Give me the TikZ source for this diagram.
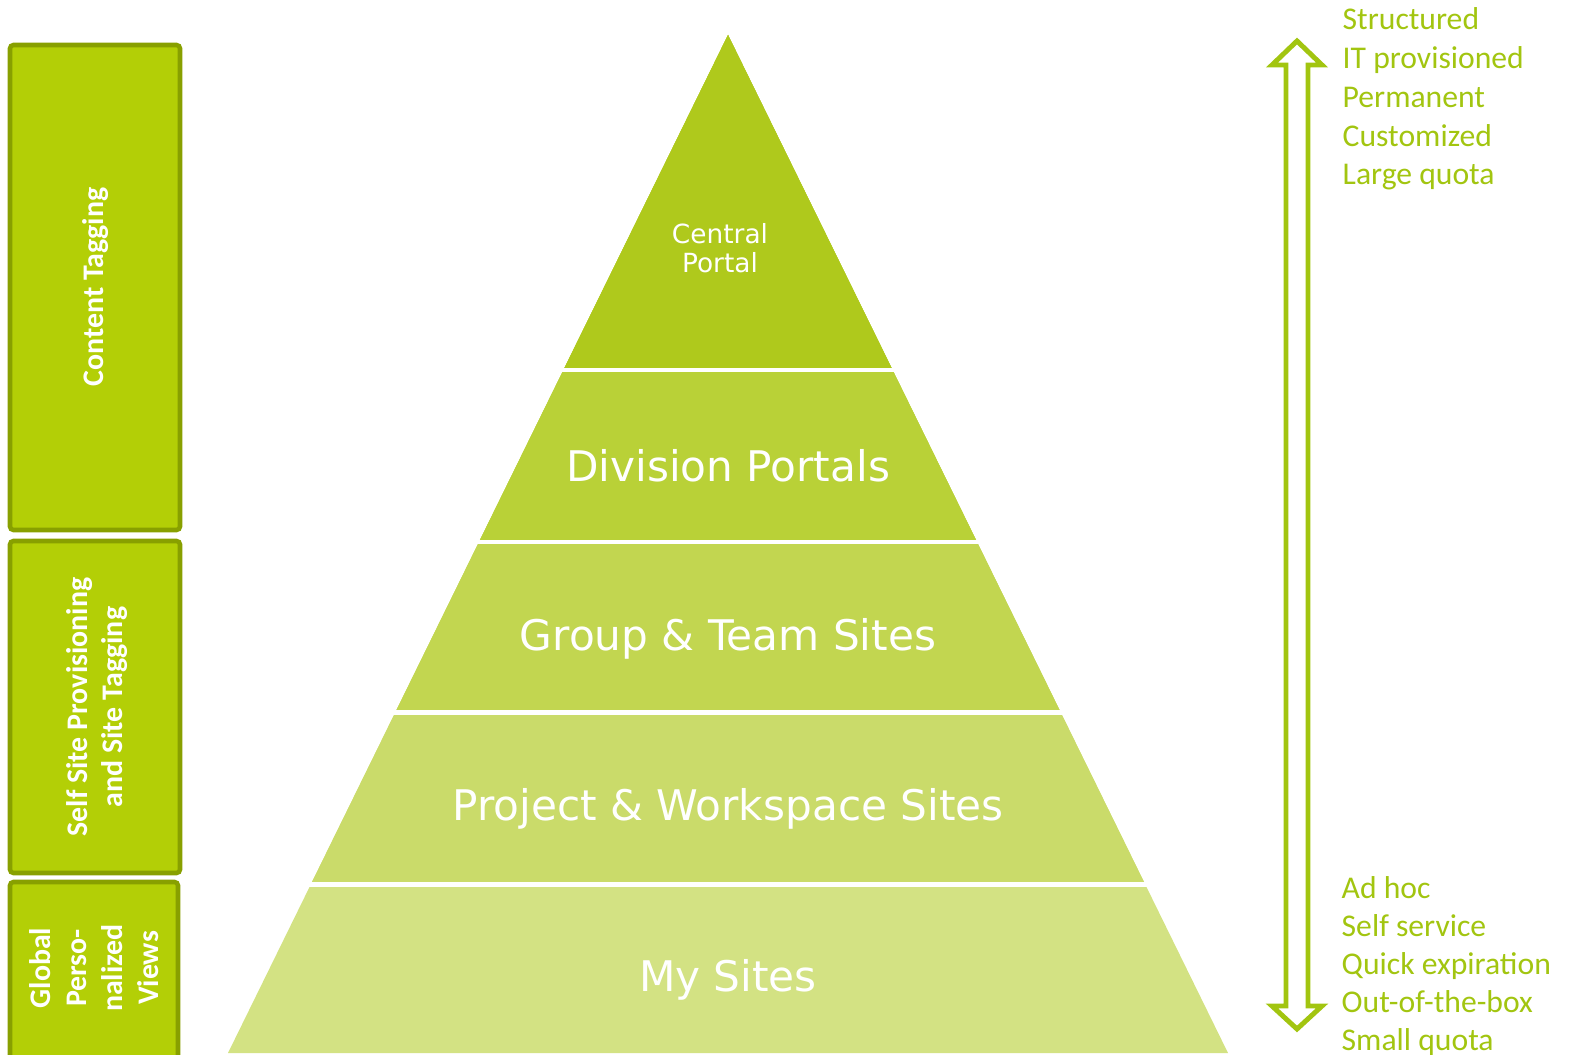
\documentclass[tikz,border=0pt]{standalone}
\usepackage{fontspec}
\setmainfont{DejaVu Sans}
\newfontfamily\carlito{Carlito}

\definecolor{tierA}{HTML}{AFC91C}
\definecolor{tierB}{HTML}{B9D137}
\definecolor{tierC}{HTML}{C2D650}
\definecolor{tierD}{HTML}{CADB6A}
\definecolor{tierE}{HTML}{D3E283}
\definecolor{boxfill}{HTML}{B3CF06}
\definecolor{boxline}{HTML}{88A000}
\definecolor{notegreen}{HTML}{A2C510}

\begin{document}
\begin{tikzpicture}[x=0.01cm,y=-0.01cm,
	sidebox/.style={draw=boxline,fill=boxfill,line width=1.3pt,rounded corners=1pt},
	sidetext/.style={rotate=90,text=white,align=center,font=\carlito\bfseries\fontsize{8.5}{10.2}\selectfont},
	tiertext/.style={text=white,font=\fontsize{12}{14}\selectfont},
	gap/.style={white,line width=1.3pt},
	note/.style={anchor=base west,inner sep=0pt,text=notegreen,font=\carlito\fontsize{9}{11}\selectfont}]
\useasboundingbox (0,0) rectangle (1569,1055);
\clip (0,0) rectangle (1569,1055);

% pyramid, biggest triangle first
\fill[tierE] (728,35) -- (1228,1053) -- (228,1053) -- cycle;
\fill[tierD] (728,35) -- (1144,882) -- (312,882) -- cycle;
\fill[tierC] (728,35) -- (1059.5,710) -- (396.5,710) -- cycle;
\fill[tierB] (728,35) -- (976,540) -- (480,540) -- cycle;
\fill[tierA] (728,35) -- (891.6,368) -- (564.4,368) -- cycle;
\draw[gap] (200,370) -- (1250,370);
\draw[gap] (200,542) -- (1250,542);
\draw[gap] (200,712.5) -- (1250,712.5);
\draw[gap] (200,884.5) -- (1250,884.5);

\node[text=white,align=center,font=\fontsize{7.5}{8.3}\selectfont] (central) at (720,248) {Central\\Portal};
\node[tiertext] (division) at (728,466) {Division Portals};
\node[tiertext] (group) at (728,639) {Group \& Team Sites};
\node[tiertext] (project) at (728,809) {Project \& Workspace Sites};
\node[tiertext] (mysites) at (728,980) {My Sites};

% side boxes
\draw[sidebox] (10,45) rectangle (180,530);
\draw[sidebox] (10,541) rectangle (180,873);
\draw[sidebox] (10,882) rectangle (178,1070);
\node[sidetext] (tagging) at (96,287) {Content Tagging};
\node[sidetext] (selfsite) at (97,707) {Self Site Provisioning\\and Site Tagging};
\node[sidetext] (global) at (94,968) {Global\\Perso-\\nalized\\Views};

% double arrow
\draw[notegreen,line width=1.4pt,fill=white] (1297,41) -- (1322,65) -- (1308,65) -- (1308,1006)
	-- (1322,1006) -- (1297,1029) -- (1272,1006) -- (1286,1006) -- (1286,65) -- (1272,65) -- cycle;

% notes
\foreach \txt [count=\i from 0] in {Structured,IT provisioned,Permanent,Customized,Large quota}
	\node[note] (top\i) at (1342,30+38.75*\i) {\txt};
\foreach \txt [count=\i from 0] in {Ad hoc,Self service,Quick expiration,Out-of-the-box,Small quota}
	\node[note] (bot\i) at (1341,899+37.8*\i) {\txt};
\end{tikzpicture}
\end{document}
